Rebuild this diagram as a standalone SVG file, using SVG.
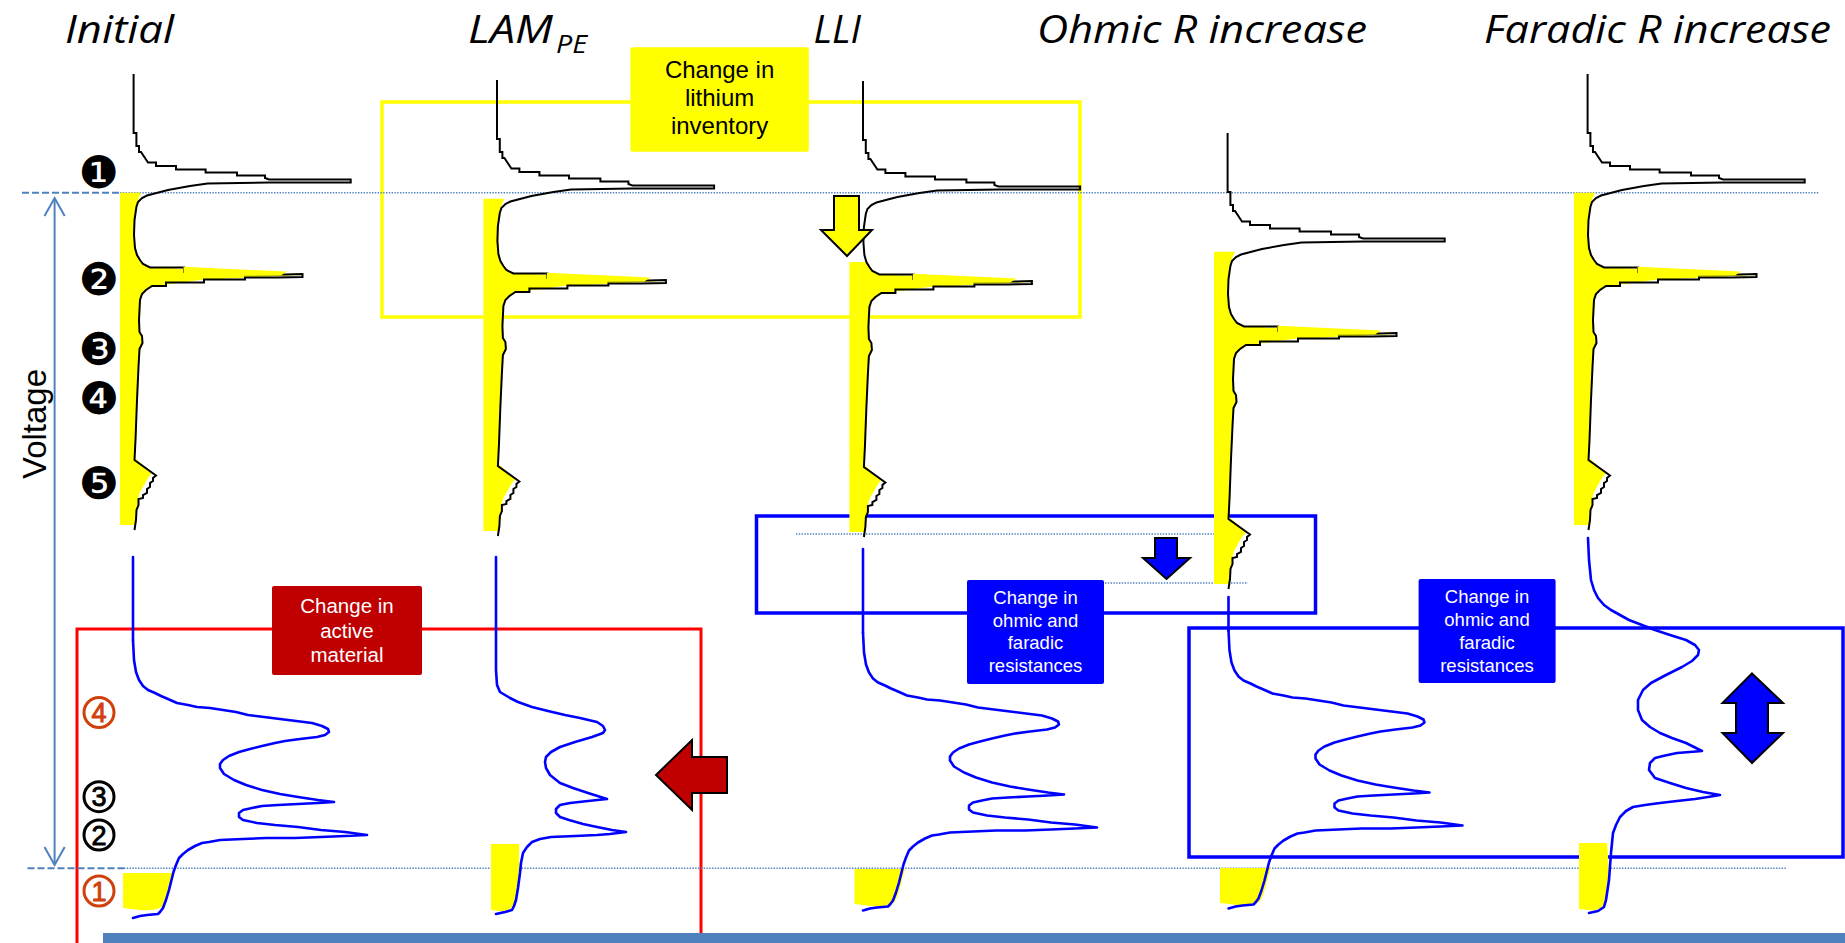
<svg xmlns="http://www.w3.org/2000/svg" width="1845" height="943" viewBox="0 0 1845 943">
<style>
.title{font-family:"Open Sans","Liberation Sans",sans-serif;font-style:italic;font-size:39px;fill:#000}
.lbl{font-family:"Liberation Sans",Arial,sans-serif;text-anchor:middle}
.num{font-family:"DejaVu Sans",sans-serif;text-anchor:middle}
.cd{font-family:"Liberation Sans",Arial,sans-serif;text-anchor:middle;font-size:27px;stroke-width:0.9}
.cc{fill:none;stroke-width:3}
.dot{fill:none;stroke:#4f81bd;stroke-width:1.4;stroke-dasharray:1.4 1.4}
.dash{fill:none;stroke:#4f81bd;stroke-width:2;stroke-dasharray:7 3}
.frame{fill:none;stroke-width:3.5}
.arr{stroke:#000;stroke-width:2;stroke-linejoin:miter}
.bl{fill:none;stroke:#0000ff;stroke-width:2.6;stroke-linejoin:round;stroke-linecap:round}
</style>
<defs>
<path id="topK" fill="none" stroke="#000" stroke-width="2" d="M133.6,74 V133 H136.4 V146 H139 V152 H141 L145,158 L148,162.5 H156 V166 H176 V169.5 H205.6 V172.5 H237 V175.5 H265 V178 L269,179.5 H350.7 V182.5 H269 L207.6,183.5 L190,186 L168,190 L147,195.5 L142,198 L138,202 L136.4,207 L134.5,220 L134,235 L135,248 L137,255 L140,260 L143,264 L150,267.5 H184 V272 H245 V274.5 H285 L302.5,274 V277 L277,277.5 H245 V279.5 H204 V282.5 H166 V286 H152 L146,290 L142,294 L140,300 L139,320 L139.5,332 L142,336 L142.5,343 L139.5,349 L138.5,367 L137,400 L135.5,440 L134.5,460 L156,475.5 L153,478 V481 L150,483 V487 L147,489 V493 L143,495 V498 L138.5,499 V505 L136.5,510 L136,520 L134.5,530"/>
<path id="topY" fill="#ffff00" d="M120,192.7 H141 L139,197 L137,203 L135.5,210 L135,225 L135,240 L136,250 L138,256 L141,261 L144,264 L150,267 L200,270 L302,275 L200,280 L166,284.5 L152,287 L146,291 L142,295 L140.5,300 L140,320 L140,333 L142.5,337 L142.5,345 L140,350 L139,367 L137.5,400 L136,440 L135,458 L152,473 L148,478 L144,485 L140,492 L138,500 L137,510 L136,525 H120 Z"/>
<path id="topYL" fill="#ffff00" d="M120,255 H138 L141,261 L144,264 L150,267 L200,270 L302,275 L200,280 L166,284.5 L152,287 L146,291 L142,295 L140.5,300 L140,320 L140,333 L142.5,337 L142.5,345 L140,350 L139,367 L137.5,400 L136,440 L135,458 L152,473 L148,478 L144,485 L140,492 L138,500 L137,510 L136,525 H120 Z"/>
<path id="spikeY" fill="#ffff00" d="M183.5,266.8 L287,271.6 L281,275.6 L183.5,276 Z"/>
<polyline id="blueC" class="bl" points="133,640 134,660 136,672 139,680 143,686 148,690 155,693 161,696 168,699 177,703 188,705 197,707 210,708 223,710 236,712 248,715 264,717 280,719 296,721 312,723 322,726 328,729 329,732 325,735 317,737 300,739 285,741 275,743 262,746 250,749 239,752 229,756 223,760 220,764 220,768 224,774 234,780 246,785 262,790 280,794 298,797 318,800 334,802 318,803 298,804 278,805 262,806 252,808 243,810 239,813 239,817 243,820 257,823 275,825 298,827 321,830 345,832 367,835 345,836 321,837 295,838 266,838 243,839 220,840 209,842 202,843 195,846 188,850 183,854 179,858 176,865 173.5,872 171,882 169,890 166,900 163,908 160,912 158,914 147,915 140,916 133,918"/>
<path id="yb" fill="#ffff00" d="M123,873 H173.5 L171,882 L169,890 L166,900 L163,906 C158,910 150,911 140,910 L123,908 Z"/>
</defs>
<rect x="0" y="0" width="1845" height="943" fill="#fff"/>

<g id="titles">
<text class="title" x="65" y="43" textLength="109" lengthAdjust="spacingAndGlyphs">Initial</text>
<text class="title" x="468" y="43"><tspan x="468" textLength="85" lengthAdjust="spacingAndGlyphs">LAM</tspan><tspan x="556" y="53" font-size="26" textLength="31" lengthAdjust="spacingAndGlyphs">PE</tspan></text>
<text class="title" x="813.5" y="43" textLength="47.5" lengthAdjust="spacingAndGlyphs">LLI</text>
<text class="title" x="1037" y="43" textLength="330" lengthAdjust="spacingAndGlyphs">Ohmic R increase</text>
<text class="title" x="1484" y="43" textLength="347" lengthAdjust="spacingAndGlyphs">Faradic R increase</text>
</g>

<g id="frames">
<rect id="frame-lithium" class="frame" x="382" y="102" width="698" height="215" stroke="#ffff00"/>
<rect id="frame-active" x="77" y="629" width="624" height="330" fill="none" stroke="#ff0000" stroke-width="3"/>
<rect id="frame-ohmic1" class="frame" x="756.5" y="516" width="559" height="97" stroke="#0000ff"/>
<rect id="frame-ohmic2" class="frame" x="1189" y="628" width="654" height="229" stroke="#0000ff"/>
</g>

<g id="reflines">
<line class="dash" x1="22" y1="192.7" x2="120" y2="192.7"/>
<line class="dot" x1="120" y1="192.7" x2="1819" y2="192.7"/>
<line class="dash" x1="27.5" y1="868.3" x2="124" y2="868.3"/>
<line class="dot" x1="124" y1="868.3" x2="1787" y2="868.3"/>
<line class="dot" x1="796" y1="534" x2="1232" y2="534"/>
<line class="dot" x1="1105" y1="583" x2="1248" y2="583"/>
</g>

<g id="col-initial">
<use href="#topY"/>
<use href="#topK"/>
<use href="#spikeY"/>
<use href="#yb"/>
<line class="bl" x1="133" y1="557" x2="133" y2="640"/>
<use href="#blueC"/>
</g>

<g id="col-lam" >
<use href="#topY" transform="translate(363.4,6)"/>
<use href="#topK" transform="translate(363.4,6)"/>
<use href="#spikeY" transform="translate(363.4,6)"/>
<path fill="#ffff00" d="M491,844 H519 L519.5,873 L518,888 L516,900 C514,908 508,911 500,911 L491,910 Z"/>
<polyline class="bl" points="496,557 496,670 497,685 500,692 505,695 510,698 518,702 532,707 548,711 565,715 580,718 597,722 603,726 605,730 603,733 592,737 575,742 560,747 551,752 546,757 545,762 546,768 550,775 560,783 573,788 588,793 607,799 588,801 570,803 560,805 556,809 556,813 560,817 569,820 583,824 597,827 612,830 626,832 610,834 597,835 575,836 551,837 540,839 532,842 527,847 523,853 521,863 520,873 518,888 516,900 514,906 512,910 505,912 496,914"/>
</g>

<g id="col-lli">
<use href="#topYL" transform="translate(729.4,7)"/>
<use href="#topK" transform="translate(729.4,7)"/>
<use href="#spikeY" transform="translate(729.4,7)"/>
<use href="#yb" transform="translate(731.5,-4)"/>
<line class="bl" x1="863" y1="549" x2="863" y2="632.5"/>
<use href="#blueC" transform="translate(730,-7.5)"/>
</g>

<g id="col-ohmic">
<use href="#topY" transform="translate(1094,59)"/>
<use href="#topK" transform="translate(1094,59)"/>
<use href="#spikeY" transform="translate(1094,59)"/>
<use href="#yb" transform="translate(1097,-5)"/>
<line class="bl" x1="1228.5" y1="597" x2="1228.5" y2="630.5"/>
<use href="#blueC" transform="translate(1095.5,-9.5)"/>
</g>

<g id="col-faradic">
<use href="#topY" transform="translate(1454,0)"/>
<use href="#topK" transform="translate(1454,0)"/>
<use href="#spikeY" transform="translate(1454,0)"/>
<path fill="#ffff00" d="M1579,843 H1607 L1609,870 L1607,890 L1605,903 C1603,909 1596,911 1588,910 L1579,909 Z"/>
<polyline class="bl" points="1588,538 1589,560 1591,580 1594,590 1598,598 1604,605 1611,610 1620,615 1629,620 1642,625 1655,630 1670,635 1686,640 1695,645 1699,650 1698,655 1692,661 1682,667 1666,675 1651,683 1643,690 1638,700 1638,710 1642,720 1650,727 1660,733 1672,738 1686,743 1702,751 1690,752 1677,753 1663,756 1655,758 1650,763 1649,770 1655,778 1670,783 1686,788 1703,792 1720,795 1708,797 1695,799 1677,801 1660,803 1645,805 1633,807 1626,811 1620,817 1616,825 1613,833 1611,853 1609,880 1606,900 1604,907 1598,911 1589,913"/>
</g>

<g id="markers">
<text class="num" x="99" y="187.5" font-size="45">❶</text>
<text class="num" x="99" y="295" font-size="45">❷</text>
<text class="num" x="99" y="365" font-size="45">❸</text>
<text class="num" x="99" y="414" font-size="45">❹</text>
<text class="num" x="99" y="499" font-size="45">❺</text>
<g id="mark-4"><circle class="cc" cx="99" cy="712.5" r="15" stroke="#d0400c"/><text class="cd" x="99" y="722.2" fill="#d0400c" stroke="#d0400c">4</text></g>
<g id="mark-3"><circle class="cc" cx="99" cy="796.7" r="15" stroke="#000"/><text class="cd" x="99" y="806.4" fill="#000" stroke="#000">3</text></g>
<g id="mark-2"><circle class="cc" cx="99" cy="835" r="15" stroke="#000"/><text class="cd" x="99" y="844.7" fill="#000" stroke="#000">2</text></g>
<g id="mark-1"><circle class="cc" cx="99" cy="891" r="15" stroke="#d0400c"/><text class="cd" x="99" y="900.7" fill="#d0400c" stroke="#d0400c">1</text></g>
<text class="lbl" transform="translate(45.5,424) rotate(-90)" font-size="33" fill="#000">Voltage</text>
</g>

<g id="label-lithium">
<rect x="630.4" y="47.3" width="178.4" height="104.4" rx="2" fill="#ffff00"/>
<text class="lbl" font-size="24" fill="#000"><tspan x="719.6" y="78">Change in</tspan><tspan x="719.6" y="106">lithium</tspan><tspan x="719.6" y="134">inventory</tspan></text>
</g>

<g id="label-active">
<rect x="272" y="586" width="150" height="89" rx="2" fill="#c00000"/>
<text class="lbl" font-size="20.5" fill="#fff"><tspan x="347" y="613">Change in</tspan><tspan x="347" y="637.5">active</tspan><tspan x="347" y="662">material</tspan></text>
</g>

<g id="label-ohmic1">
<rect x="967" y="580" width="137" height="104" rx="2" fill="#0000ff"/>
<text class="lbl" font-size="18.5" fill="#fff"><tspan x="1035.5" y="604">Change in</tspan><tspan x="1035.5" y="627">ohmic and</tspan><tspan x="1035.5" y="649">faradic</tspan><tspan x="1035.5" y="672">resistances</tspan></text>
</g>

<g id="label-ohmic2">
<rect x="1418.6" y="579" width="137" height="104" rx="2" fill="#0000ff"/>
<text class="lbl" font-size="18.5" fill="#fff"><tspan x="1487" y="603">Change in</tspan><tspan x="1487" y="626">ohmic and</tspan><tspan x="1487" y="649">faradic</tspan><tspan x="1487" y="672">resistances</tspan></text>
</g>

<g id="connectors">
<line x1="54.6" y1="199" x2="54.6" y2="864" stroke="#4f81bd" stroke-width="2"/>
<polyline points="44.5,216 54.6,198 64.7,216" fill="none" stroke="#4f81bd" stroke-width="2"/>
<polyline points="44.5,847 54.6,865 64.7,847" fill="none" stroke="#4f81bd" stroke-width="2"/>
<polygon class="arr" fill="#ffff00" points="834,196 859,196 859,230 872,230 847,256 821,230 834,230"/>
<polygon class="arr" fill="#0000ff" points="1155,538 1177,538 1177,558 1190,558 1166.5,579 1143,558 1155,558"/>
<polygon class="arr" fill="#c00000" points="656,775 692,740 692,757 727,757 727,793 692,793 692,810"/>
<polygon class="arr" fill="#0000ff" points="1752,673.5 1783,703 1768,703 1768,733 1783,733 1752,763 1722.5,733 1736,733 1736,703 1722.5,703"/>
</g>

<rect id="bottom-bar" x="103" y="933" width="1742" height="10" fill="#4f81bd"/>
</svg>
